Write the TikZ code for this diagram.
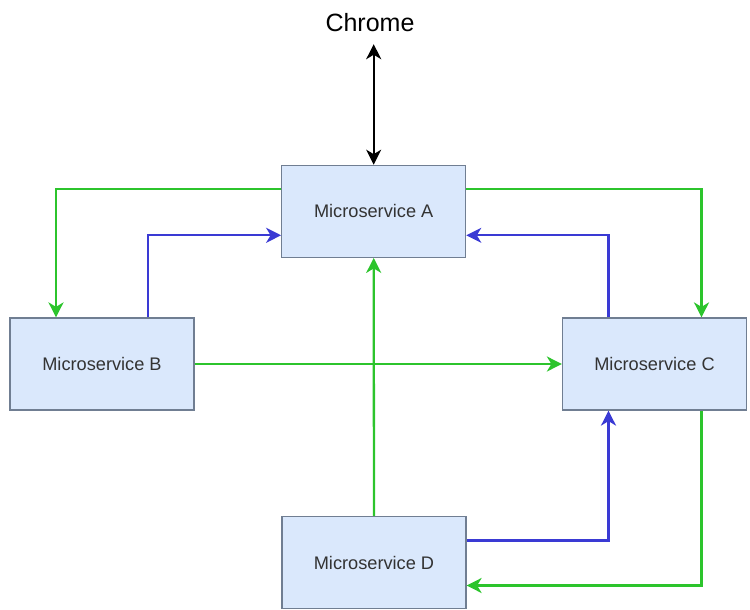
\documentclass[tikz,border=0pt]{standalone}
\usepackage{fontspec}
\setmainfont{Liberation Sans}
\usetikzlibrary{arrows.meta}

\definecolor{msfill}{RGB}{218,232,252}
\definecolor{msline}{RGB}{112,126,146}
\definecolor{flowgreen}{RGB}{44,196,44}
\definecolor{flowblue}{RGB}{58,58,212}

\tikzset{
 service/.style={draw=msline, fill=msfill, line width=1.2pt, minimum width=184pt, minimum height=92pt, inner sep=0pt, font=\fontsize{18.2}{21}\selectfont, text=black!80},
 greenflow/.style={draw=flowgreen, line width=2.3pt, -{Stealth[length=15pt,width=15pt,inset=4.5pt]}},
 blueflow/.style={draw=flowblue, line width=2.3pt, -{Stealth[length=15pt,width=15pt,inset=4.5pt]}}
}

\begin{document}
\begin{tikzpicture}[x=1pt, y=-1pt]
 \useasboundingbox (0,0) rectangle (750,610);

 \node (chrome) at (370,23) [font=\fontsize{25}{28}\selectfont, inner sep=0pt, minimum height=42pt] {Chrome};
 \node[service] (a) at (373.7,211.3) {Microservice A};
 \node[service] (b) at (102,364) {Microservice B};
 \node[service] (c) at (654.5,364) {Microservice C};
 \node[service] (d) at (374,562.5) {Microservice D};

 \draw [{Stealth[length=15pt,width=15pt,inset=4.5pt]}-{Stealth[length=15pt,width=15pt,inset=4.5pt]}, line width=2.3pt] (a.north |- chrome.south) -- (a.north);

 \draw [greenflow] ([yshift=22pt]a.west) -| ([xshift=-46pt]b.north);
 \draw [greenflow] ([yshift=22pt]a.east) -| ([xshift=47pt]c.north);
 \draw [greenflow] (b.east) -- (c.west);
 \draw [greenflow] (d.north) -- (a.south);
 \draw [greenflow] ([xshift=47pt]c.south) |- ([yshift=-23pt]d.east);

 \draw [blueflow] ([xshift=46pt]b.north) |- ([yshift=-24pt]a.west);
 \draw [blueflow] ([xshift=-46pt]c.north) |- ([yshift=-24pt]a.east);
 \draw [blueflow] ([yshift=22pt]d.east) -| ([xshift=-46pt]c.south);
\end{tikzpicture}
\end{document}
